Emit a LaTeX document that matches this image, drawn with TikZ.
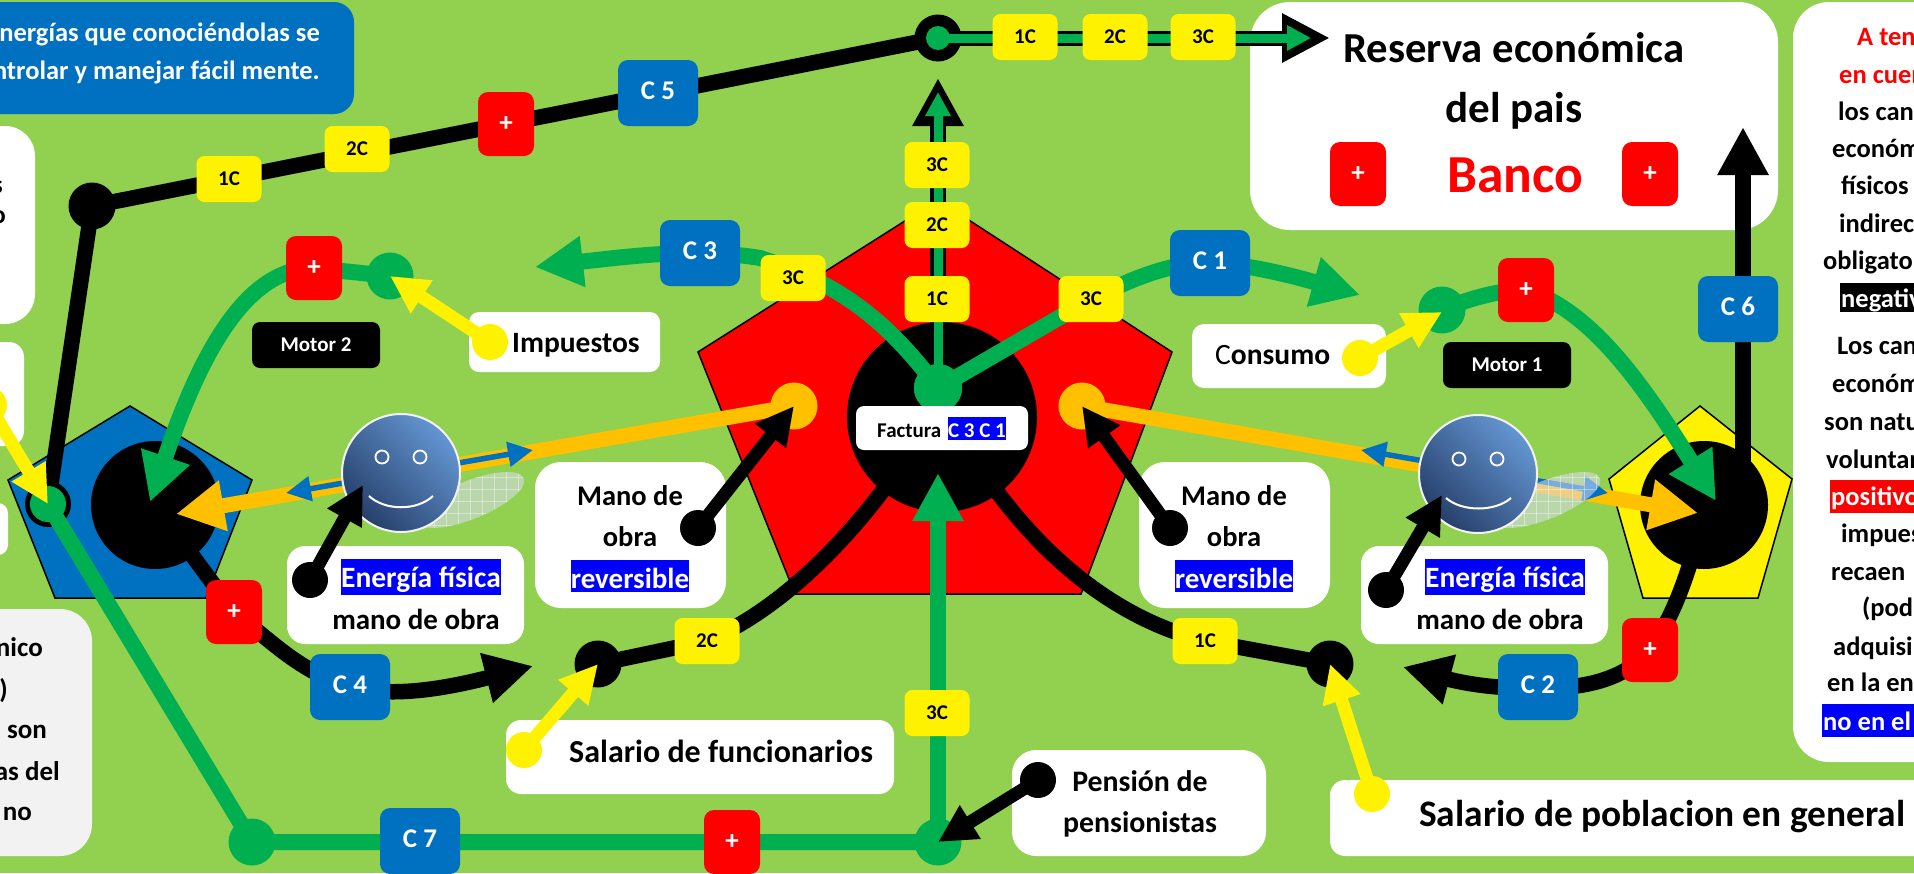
\documentclass[tikz,border=0pt]{standalone}
\usepackage{fontspec}
\setmainfont{Carlito}
\usetikzlibrary{arrows.meta}
\definecolor{bgc}{HTML}{92D050}
\definecolor{grn}{HTML}{00B050}
\definecolor{blu}{HTML}{0070C0}
\definecolor{org}{HTML}{FFC000}
\definecolor{gry}{HTML}{F2F2F2}
\definecolor{facea}{HTML}{6496D2}
\definecolor{faceb}{HTML}{263F6A}
\definecolor{veil}{RGB}{219,220,247}
\newcommand{\fsz}[1]{\fontsize{#1}{#1}\selectfont}
\newcommand{\bx}[6]{\fill[#6,rounded corners=#5pt] (#1,#2) rectangle (#3,#4);}
\newcommand{\clab}[1]{\raisebox{5pt}{C #1}\hspace{4pt}}
\tikzset{
  chip/.style={fill=yellow,rounded corners=8pt,minimum width=65pt,minimum height=46pt,inner sep=0pt,font=\bfseries\fsz{21},text=black},
  plusbox/.style={fill=red,rounded corners=10pt,minimum width=56pt,minimum height=64pt,inner sep=0pt,font=\bfseries\fsz{27},text=white},
  cbox/.style={fill=blu,rounded corners=10pt,minimum width=80pt,minimum height=66pt,inner sep=0pt,font=\bfseries\fsz{27},text=white},
  motorbox/.style={fill=black,rounded corners=8pt,minimum width=128pt,minimum height=46pt,inner sep=0pt,font=\bfseries\fsz{21},text=white},
  dotn/.style={circle,minimum size=#1,inner sep=0pt},
  txt/.style={anchor=base,inner sep=0pt,font=\bfseries\fsz{#1},text=black},
  ltx/.style={anchor=base west,inner sep=0pt,font=\bfseries\fsz{#1},text=black},
  rtx/.style={anchor=base east,inner sep=0pt,font=\bfseries\fsz{#1},text=black},
  hl/.style n args={3}{anchor=base,inner xsep=0pt,inner ysep=0pt,text height=#1pt,text depth=#2pt,fill=blue,text=white,font=\bfseries\fsz{#3}},
  pent/.style={draw=black,line width=1.5pt},
  bigshaft/.style={line width=16pt,-{Triangle[length=48pt,width=48pt]}},
  ptr/.style={line width=13pt,-{Triangle[length=38pt,width=37pt]}},
  blk/.style={line width=15.5pt,draw=black},
  facest/.style={circle,minimum size=118pt,inner sep=0pt,draw=gry,line width=2pt,left color=facea,right color=faceb,shading angle=-45},
  eye/.style={circle,minimum size=13pt,inner sep=0pt,draw=white,line width=1.8pt},
}
\begin{document}
\begin{tikzpicture}[x=1pt,y=-1pt]
\useasboundingbox (0,0) rectangle (1914,873);
\clip (0,0) rectangle (1914,873);
\fill[bgc] (0,0) rectangle (1914,873);
% panels
\bx{-40}{2}{354}{114}{20}{blu}
\bx{-60}{126}{35}{324}{30}{white}
\bx{-60}{342}{24}{446}{15}{white}
\bx{-60}{503}{8}{555}{10}{white}
\bx{-60}{609}{92}{856}{32}{gry}
\bx{469}{312}{660}{372}{10}{white}
\bx{1192}{324}{1386}{388}{12}{white}
\bx{535}{462}{726}{608}{26}{white}
\bx{1139}{462}{1330}{608}{26}{white}
\bx{287}{546}{524}{644}{18}{white}
\bx{1361}{546}{1608}{644}{18}{white}
\bx{506}{720}{894}{794}{15}{white}
\bx{1012}{750}{1266}{856}{24}{white}
\bx{1330}{780}{1980}{856}{15}{white}
\bx{1250}{2}{1778}{230}{40}{white}
\bx{1793}{2}{1980}{762}{36}{white}
% pentagons
\draw[pent,fill=blu] (130,406) -- (252,480) -- (206,598) -- (55,598) -- (8,480) -- cycle;
\draw[pent,fill=red] (938,200) -- (1172,352) -- (1081,594) -- (795,594) -- (698,352) -- cycle;
\draw[pent,fill=yellow] (1700,406) -- (1792,479) -- (1758,598) -- (1643,598) -- (1609,479) -- cycle;
% hubs
\node[dotn=128pt,fill=black] (hubL) at (155,505) {};
\node[dotn=190pt,fill=black] (hubC) at (942,417) {};
\node[dotn=128pt,fill=black] (hubR) at (1704,505) {};
\coordinate (c1t) at (1025,37);
\coordinate (c2t) at (1115,37);
\coordinate (c3t) at (1203,37);
\node[dotn=47pt,fill=black] (nodeA) at (92,206) {};
\node[dotn=47pt,fill=black] (nodeB) at (938,38) {};
\node[dotn=46pt,fill=black] (ringO) at (48,504) {};
\node[dotn=47pt,fill=black] (nodeD) at (598,664) {};
\node[dotn=47pt,fill=black] (nodeE) at (1330,664) {};
\node[dotn=47pt,fill=grn] (gLow) at (252,842) {};
\node[dotn=47pt,fill=grn] (gBot) at (938,842) {};
\node[dotn=48pt,fill=grn] (gCen) at (938,388) {};
\node[dotn=47pt,fill=grn] (gM2) at (390,276) {};
\node[dotn=47pt,fill=grn] (gM1) at (1442,310) {};
\node[dotn=47pt,fill=org] (oL) at (794,406) {};
\node[dotn=47pt,fill=org] (oR) at (1082,406) {};
% tips
\coordinate (tC3) at (535,267);
\coordinate (tC1) at (1360,295);
\coordinate (tM2) at (150,502);
\coordinate (tM1) at (1716,501);
\coordinate (tC4) at (533,666);
\coordinate (tC2) at (1403,667);
\coordinate (tC6) at (1743,127);
\coordinate (tVk) at (938,78);
\coordinate (tVg) at (938,92);
\coordinate (tHk) at (1330,38);
\coordinate (tHg) at (1311,38);
\coordinate (tUp) at (938,473);
\coordinate (tOL) at (176,514);
\coordinate (tOR) at (1698,513);
\coordinate (bLa) at (286,493);
\coordinate (bLb) at (533,450);
\coordinate (bRa) at (1361,450);
\coordinate (bRb) at (1608,493);
\coordinate (bendR) at (1655,640);
% route points under the labelled boxes
\coordinate (rC5) at (658,93);
\coordinate (rC3) at (700,253);
\coordinate (rC1) at (1210,263);
\coordinate (rC4) at (350,687);
\coordinate (rC2) at (1538,687);
\coordinate (rC7) at (420,841);
\coordinate (rP4) at (234,612);
\coordinate (rP1) at (1526,290);
\coordinate (rP2) at (314,268);
\coordinate (rPr) at (1650,650);
\coordinate (r3L) at (793,278);
\coordinate (r3R) at (1091,299);
\coordinate (r2D) at (707,641);
\coordinate (r1E) at (1205,641);
% black routes
\draw[blk] (ringO.center) -- (nodeA.center) -- (nodeB.center);
\draw[line width=15pt,-{Triangle[length=48pt,width=46pt]}] (nodeB.center) -- (tHk);
\draw[line width=16pt,-{Triangle[length=48pt,width=48pt]}] (hubC.center) ++(-4,0) -- (tVk);
\draw[bigshaft,draw=black] (hubR.center) ++(39,0) -- (tC6);
\draw[blk] (hubL.center) -- (rP4);
\draw[bigshaft,line width=15.5pt] (rP4) .. controls (270,640) and (300,672) .. (rC4) .. controls (390,697) and (440,690) .. (tC4);
\draw[bigshaft,line width=15.5pt] (hubR.center) .. controls (1695,560) and (1672,620) .. (bendR) -- (rPr) .. controls (1625,680) and (1580,690) .. (rC2) .. controls (1510,690) and (1470,685) .. (tC2);
\draw[blk] (nodeD.center) -- (r2D) .. controls (780,610) and (850,540) .. (905,460);
\draw[blk] (nodeE.center) -- (r1E) .. controls (1120,620) and (1040,560) .. (975,460);
% orange and blue
\draw[line width=15pt,org,-{Triangle[length=48pt,width=48pt]}] (oL.center) -- (tOL);
\draw[line width=15pt,org,-{Triangle[length=48pt,width=48pt]}] (oR.center) -- (tOR);
\draw[line width=5.5pt,blu,{Triangle[length=25pt,width=24pt]}-{Triangle[length=25pt,width=24pt]}] (bLa) -- (bLb);
\draw[line width=5.5pt,blu,{Triangle[length=25pt,width=24pt]}-{Triangle[length=25pt,width=24pt]}] (bRa) -- (bRb);
% translucent ellipses
\begin{scope}
\clip[rotate around={22:(470,500)}] (470,500) ellipse [x radius=58pt,y radius=19pt];
\fill[veil,opacity=.55] (400,460) rectangle (540,540);
\foreach \i in {0,...,11} {\draw[white,opacity=.4,line width=.7pt] (410+12*\i,460) -- (410+12*\i,540);}
\foreach \i in {0,...,6} {\draw[white,opacity=.4,line width=.7pt] (400,465+12*\i) -- (540,465+12*\i);}
\end{scope}
\begin{scope}
\clip[rotate around={22:(1546,500)}] (1546,500) ellipse [x radius=58pt,y radius=19pt];
\fill[veil,opacity=.55] (1480,460) rectangle (1620,540);
\foreach \i in {0,...,11} {\draw[white,opacity=.4,line width=.7pt] (1488+12*\i,460) -- (1488+12*\i,540);}
\foreach \i in {0,...,6} {\draw[white,opacity=.4,line width=.7pt] (1480,465+12*\i) -- (1620,465+12*\i);}
\end{scope}
% faces
\node[facest] (faceL) at (401,473) {};
\node[eye] (eyeLa) at (382,457) {};
\node[eye] (eyeLb) at (420,457) {};
\draw[white,line width=2pt] (369,496) .. controls (385,511) and (417,511) .. (433,496);
\node[facest] (faceR) at (1478,474) {};
\node[eye] (eyeRa) at (1459,459) {};
\node[eye] (eyeRb) at (1497,459) {};
\draw[white,line width=2pt] (1446,498) .. controls (1462,512) and (1495,512) .. (1511,498);
% green routes
\node[dotn=36pt,fill=grn] (ringI) at (48,504) {};
\draw[grn,line width=16pt] (ringI.center) -- (gLow.center) -- (gBot.center);
\draw[grn,bigshaft] (gBot.center) -- (tUp);
\draw[grn,line width=16pt,-{Triangle[length=48pt,width=48pt]}] (gCen.center) .. controls (890,325) and (845,285) .. (760,258) .. controls (700,248) and (640,255) .. (tC3);
\draw[grn,line width=16pt,-{Triangle[length=48pt,width=48pt]}] (gCen.center) -- (r3R) .. controls (1130,280) and (1170,262) .. (rC1) .. controls (1250,264) and (1300,278) .. (tC1);
\draw[grn,line width=16pt,-{Triangle[length=48pt,width=48pt]}] (gM2.center) -- (rP2) .. controls (240,268) and (195,370) .. (tM2);
\draw[grn,line width=16pt,-{Triangle[length=48pt,width=48pt]}] (gM1.center) .. controls (1470,298) and (1500,290) .. (rP1) .. controls (1590,310) and (1640,380) .. (tM1);
\draw[grn,line width=9pt,-{Triangle[length=24pt,width=24pt]}] (gCen.center) -- (tVg);
\draw[grn,line width=9pt,-{Triangle[length=24pt,width=24pt]}] (nodeB.center) -- (tHg);
\node[dotn=48pt,fill=grn] (gCenT) at (938,388) {};
\node[dotn=24pt,fill=grn] (nodeBI) at (938,38) {};
% factura
\bx{856}{406}{1028}{450}{8}{white}
\node[ltx=21] (fact) at (877,437) {Factura};
\node[anchor=base,inner xsep=0pt,inner ysep=0pt,text height=20pt,text depth=3pt,fill=blue,text=white,font=\bfseries\fsz{21}] (factb) at (977,437) {C 3 C 1};
% yellow pointers
\node[dotn=36pt,fill=yellow] (yI) at (490,342) {};
\draw[ptr,yellow] (yI.center) -- (gM2.center);
\node[dotn=36pt,fill=yellow] (yC) at (1360,358) {};
\draw[ptr,yellow] (yC.center) -- (1442,312);
\node[dotn=36pt,fill=yellow] (yL) at (-11,405) {};
\draw[ptr,yellow] (yL.center) -- (ringI.center);
\node[dotn=36pt,fill=yellow] (yD) at (524,750) {};
\draw[ptr,yellow] (yD.center) -- (nodeD.center);
\node[dotn=36pt,fill=yellow] (yE) at (1372,794) {};
\draw[ptr,yellow] (yE.center) -- (nodeE.center);
% black pointers
\node[dotn=36pt,fill=black] (kMl) at (698,528) {};
\draw[ptr] (kMl.center) -- (oL.center);
\node[dotn=36pt,fill=black] (kMr) at (1170,528) {};
\draw[ptr] (kMr.center) -- (oR.center);
\node[dotn=36pt,fill=black] (kEl) at (310,580) {};
\draw[ptr] (kEl.center) -- (363,485);
\node[dotn=36pt,fill=black] (kEr) at (1386,590) {};
\draw[ptr] (kEr.center) -- (1442,495);
\node[dotn=36pt,fill=black] (kP) at (1038,780) {};
\draw[ptr] (kP.center) -- (gBot.center);
% chips
\node[chip] (ch1) at (c1t) {1C};
\node[chip] (ch2) at (c2t) {2C};
\node[chip] (ch3) at (c3t) {3C};
\node[chip] (ch4) at (229,179) {1C};
\node[chip] (ch5) at (357,149) {2C};
\node[chip] (ch6) at (937,165) {3C};
\node[chip] (ch7) at (937,225) {2C};
\node[chip] (ch8) at (937,299) {1C};
\node[chip] (ch9) at (r3L) {3C};
\node[chip] (ch10) at (r3R) {3C};
\node[chip] (ch11) at (r2D) {2C};
\node[chip] (ch12) at (r1E) {1C};
\node[chip] (ch13) at (937,713) {3C};
% plus boxes
\node[plusbox] (p1) at (506,124) {+};
\node[plusbox] (p2) at (rP2) {+};
\node[plusbox] (p3) at (rP4) {+};
\node[plusbox] (p4) at (732,842) {+};
\node[plusbox] (p5) at (rP1) {+};
\node[plusbox] (p6) at (1358,174) {+};
\node[plusbox] (p7) at (1650,174) {+};
\node[plusbox] (p8) at (rPr) {+};
% C boxes
\node[cbox] (cb5) at (rC5) {\clab{5}};
\node[cbox] (cb3) at (rC3) {\clab{3}};
\node[cbox] (cb1) at (rC1) {\clab{1}};
\node[cbox] (cb6) at (1738,309) {\clab{6}};
\node[cbox] (cb4) at (rC4) {\clab{4}};
\node[cbox] (cb2) at (rC2) {\clab{2}};
\node[cbox] (cb7) at (rC7) {\clab{7}};
% motors
\node[motorbox] (mot2) at (316,345) {\raisebox{-2pt}{Motor 2}};
\node[motorbox] (mot1) at (1507,365) {\raisebox{-2pt}{Motor 1}};
% blue panel text
\node[rtx=26.5,text=white] (bt1) at (320,41) {nergías que conociéndolas se};
\node[rtx=26.5,text=white] (bt2) at (320,79) {ntrolar y manejar fácil mente.};
% left fragments
\node[rtx=26] (lf1) at (3,193) {s};
\node[rtx=26] (lf2) at (6,223) {o};
\node[rtx=27] (gf1) at (43,656) {nico};
\node[rtx=27] (gf2) at (8,698) {)};
\node[rtx=27] (gf3) at (47,738) {son};
\node[rtx=27] (gf4) at (60,780) {as del};
\node[rtx=27] (gf5) at (32,820) {no};
% box labels
\node[ltx=29.5] (lImp) at (512,352) {Impuestos};
\node[ltx=29.5] (lCon) at (1215,364) {{\mdseries C}onsumo};
\node[txt=28.5] (mL1) at (630,505) {Mano de};
\node[txt=28.5] (mL2) at (630,546) {obra};
\node[hl={28}{4}{29}] (mL3) at (630,588) {reversible};
\node[txt=28.5] (mR1) at (1234,505) {Mano de};
\node[txt=28.5] (mR2) at (1234,546) {obra};
\node[hl={28}{4}{29}] (mR3) at (1234,588) {reversible};
\node[hl={28}{8}{29.5}] (eL1) at (421,587) {Energía física};
\node[txt=29] (eL2) at (416,629) {mano de obra};
\node[hl={28}{8}{29.5}] (eR1) at (1505,587) {Energía física};
\node[txt=29] (eR2) at (1500,629) {mano de obra};
\node[ltx=32] (lSf) at (569,762) {Salario de funcionarios};
\node[txt=29.8] (lP1) at (1140,791) {Pensión de};
\node[txt=29.8] (lP2) at (1140,832) {pensionistas};
\node[ltx=37.4] (lSp) at (1419,826) {Salario de poblacion en general};
% reserve panel
\node[txt=42.7] (rs1) at (1514,62) {Reserva económica};
\node[txt=43] (rs2) at (1514,122) {del pais};
\node[txt=53.5,text=red] (rs3) at (1515,192) {Banco};
% right column
\fill[black] (1840,283) rectangle (1914,312);
\fill[red] (1830,480) rectangle (1914,513);
\fill[blue] (1822,704) rectangle (1914,737);
\node[ltx=26.5,text=red] (q1) at (1857,45) {A ten};
\node[ltx=26.5,text=red] (q2) at (1839,83) {en cuen};
\node[ltx=26.5] (q3) at (1838,120) {los can};
\node[ltx=26.5] (q4) at (1832,157) {económ};
\node[ltx=26.5] (q5) at (1841,194) {físicos};
\node[ltx=26.5] (q6) at (1839,232) {indirec};
\node[ltx=26.5] (q7) at (1823,269) {obligato};
\node[ltx=26.5,text=white] (q8) at (1841,307) {negativ};
\node[ltx=26.5] (q9) at (1837,354) {Los can};
\node[ltx=26.5] (q10) at (1832,392) {económ};
\node[ltx=26.5] (q11) at (1824,430) {son natu};
\node[ltx=26.5] (q12) at (1826,468) {voluntar};
\node[ltx=26.5,text=white] (q13) at (1831,505) {positivo};
\node[ltx=26.5] (q14) at (1841,542) {impues};
\node[ltx=26.5] (q15) at (1831,580) {recaen};
\node[ltx=26.5] (q16) at (1862,616) {(pod};
\node[ltx=26.5] (q17) at (1833,655) {adquisi};
\node[ltx=26.5] (q18) at (1827,691) {en la en};
\node[ltx=26.5,text=white] (q19) at (1823,730) {no en el};
\end{tikzpicture}
\end{document}
